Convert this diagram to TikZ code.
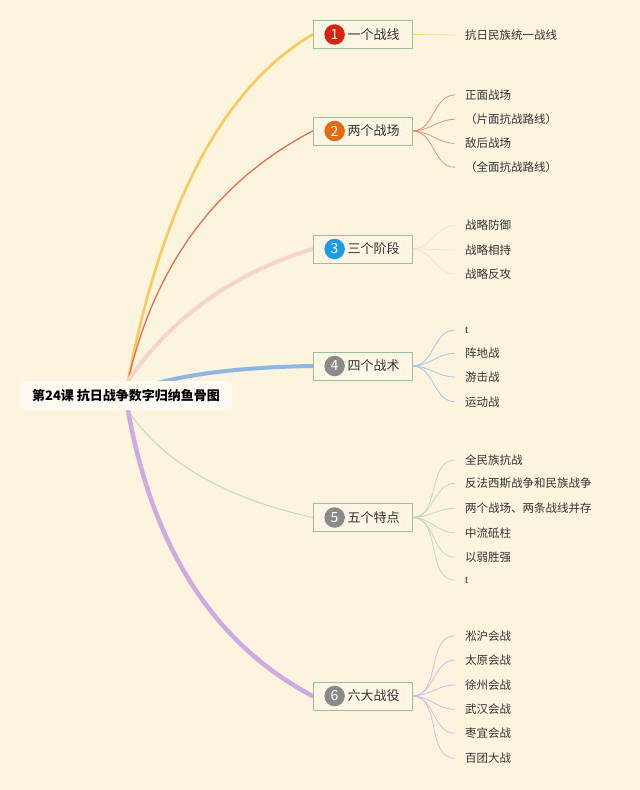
\documentclass[tikz,border=0pt]{standalone}
\usepackage{fontspec}
\setmainfont{Noto Sans CJK SC}
\newfontfamily\latinserif{Liberation Serif}
\usepackage{tikz}
\usetikzlibrary{backgrounds,calc}

\definecolor{bgcream}{HTML}{FDF4DE}
\definecolor{rootfill}{HTML}{FFFBF3}
\definecolor{boxline}{HTML}{9DBE9A}
\definecolor{boxfill}{HTML}{FEF6E4}
\definecolor{cyellow}{HTML}{F8C95C}
\definecolor{cred}{HTML}{E0704C}
\definecolor{cpink}{HTML}{F5D5C8}
\definecolor{cblue}{HTML}{8FB5E3}
\definecolor{cgreen}{HTML}{BBDDB9}
\definecolor{cpurple}{HTML}{CFA9E1}
\definecolor{numred}{HTML}{D8230F}
\definecolor{numorange}{HTML}{E36C12}
\definecolor{numblue}{HTML}{1D9BE0}
\definecolor{numgray}{HTML}{8A8A8A}
\definecolor{ink}{HTML}{333333}

\begin{document}
\begin{tikzpicture}[
  x=1pt, y=-1pt,
  root/.style={fill=rootfill, rounded corners=6pt, minimum width=212pt, minimum height=29pt,
    inner sep=0pt, text=black, font=\bfseries\fontsize{13}{15}\selectfont},
  topic/.style={draw=boxline, fill=boxfill, line width=0.8pt, minimum width=99pt,
    minimum height=28pt, inner sep=0pt, text=ink, font=\fontsize{13}{15}\selectfont},
  num/.style={circle, inner sep=0pt, minimum size=20.5pt, text=white, font=\fontsize{14}{14}\selectfont},
  leaf/.style={anchor=west, inner xsep=10pt, inner ysep=1pt, text=ink, font=\fontsize{11.5}{13}\selectfont},
  bone/.style={line cap=round},
  twig/.style={line width=0.8pt}
]
  \useasboundingbox (0,0) rectangle (640,790);

  % root
  \node[root] (root) at (126,395.5) {第24课 抗日战争数字归纳鱼骨图};
  \coordinate (rtop) at ([xshift=2pt]root.north);
  \coordinate (rmid) at ([xshift=2pt,yshift=3pt]root.center);
  \coordinate (rbot) at ([xshift=2pt]root.south);

  % topics
  \node[topic] (t1) at (362.5,34.5) {\hspace*{22pt}一个战线};
  \node[topic] (t2) at (362.5,131) {\hspace*{22pt}两个战场};
  \node[topic] (t3) at (362.5,249) {\hspace*{22pt}三个阶段};
  \node[topic] (t4) at (362.5,366) {\hspace*{22pt}四个战术};
  \node[topic] (t5) at (362.5,517.5) {\hspace*{22pt}五个特点};
  \node[topic] (t6) at (362.5,696) {\hspace*{22pt}六大战役};
  \node[num, fill=numred] (n1) at ([xshift=22pt]t1.west) {1};
  \node[num, fill=numorange] (n2) at ([xshift=22pt]t2.west) {2};
  \node[num, fill=numblue] (n3) at ([xshift=22pt]t3.west) {3};
  \node[num, fill=numgray] (n4) at ([xshift=22pt]t4.west) {4};
  \node[num, fill=numgray] (n5) at ([xshift=22pt]t5.west) {5};
  \node[num, fill=numgray] (n6) at ([xshift=22pt]t6.west) {6};

  % leaves
  \node[leaf] (l11) at (455,35) {抗日民族统一战线};

  \node[leaf] (l21) at (455,95) {正面战场};
  \node[leaf] (l22) at (455,119.3) {（片面抗战路线）};
  \node[leaf] (l23) at (455,143.3) {敌后战场};
  \node[leaf] (l24) at (455,167.3) {（全面抗战路线）};

  \node[leaf] (l31) at (455,225.5) {战略防御};
  \node[leaf] (l32) at (455,250) {战略相持};
  \node[leaf] (l33) at (455,274) {战略反攻};

  \node[leaf] (l41) at (455,330) {\latinserif t};
  \node[leaf] (l42) at (455,353.3) {阵地战};
  \node[leaf] (l43) at (455,377) {游击战};
  \node[leaf] (l44) at (455,401.7) {运动战};

  \node[leaf] (l51) at (455,460) {全民族抗战};
  \node[leaf] (l52) at (455,483.3) {反法西斯战争和民族战争};
  \node[leaf] (l53) at (455,508.3) {两个战场、两条战线并存};
  \node[leaf] (l54) at (455,532.7) {中流砥柱};
  \node[leaf] (l55) at (455,557.3) {以弱胜强};
  \node[leaf] (l56) at (455,580) {\latinserif t};

  \node[leaf] (l61) at (455,635.7) {淞沪会战};
  \node[leaf] (l62) at (455,660) {太原会战};
  \node[leaf] (l63) at (455,685) {徐州会战};
  \node[leaf] (l64) at (455,709.3) {武汉会战};
  \node[leaf] (l65) at (455,733.3) {枣宜会战};
  \node[leaf] (l66) at (455,758.3) {百团大战};

  \begin{scope}[on background layer]
    \fill[bgcream] (0,0) rectangle (640,790);

    % main bones
    \draw[bone, cyellow, line width=2.6pt] (rtop) .. controls (162.7,201.3) and (224.3,86.3) .. (t1.west);
    \draw[bone, cred, line width=1.3pt] (rtop) .. controls (154.7,264.7) and (216.3,181.3) .. (t2.west);
    \draw[bone, cpink, line width=4pt] (rtop) .. controls (172.3,316.7) and (234,273) .. (t3.west);
    \draw[bone, cblue, line width=4pt] (rmid) .. controls (169.3,376) and (231.7,367.3) .. (t4.west);
    \draw[bone, cgreen, line width=1pt] (rbot) .. controls (161.3,460.7) and (222.3,497.3) .. (t5.west);
    \draw[bone, cpurple, line width=4.5pt] (rbot) .. controls (152.7,548.7) and (214.3,644) .. (t6.west);

    % twigs
    \draw[twig, cyellow!80] (t1.east) -- (l11.west);

    \draw[twig, cred!75] (t2.east) to[out=0,in=180] (l21.west);
    \draw[twig, cred!75] (t2.east) to[out=0,in=180] (l22.west);
    \draw[twig, cred!75] (t2.east) to[out=0,in=180] (l23.west);
    \draw[twig, cred!75] (t2.east) to[out=0,in=180] (l24.west);

    \draw[twig, cpink!80] (t3.east) to[out=0,in=180] (l31.west);
    \draw[twig, cpink!80] (t3.east) to[out=0,in=180] (l32.west);
    \draw[twig, cpink!80] (t3.east) to[out=0,in=180] (l33.west);

    \draw[twig, cblue!80] (t4.east) to[out=0,in=180] (l41.west);
    \draw[twig, cblue!80] (t4.east) to[out=0,in=180] (l42.west);
    \draw[twig, cblue!80] (t4.east) to[out=0,in=180] (l43.west);
    \draw[twig, cblue!80] (t4.east) to[out=0,in=180] (l44.west);

    \draw[twig, cgreen] (t5.east) to[out=0,in=180] (l51.west);
    \draw[twig, cgreen] (t5.east) to[out=0,in=180] (l52.west);
    \draw[twig, cgreen] (t5.east) to[out=0,in=180] (l53.west);
    \draw[twig, cgreen] (t5.east) to[out=0,in=180] (l54.west);
    \draw[twig, cgreen] (t5.east) to[out=0,in=180] (l55.west);
    \draw[twig, cgreen] (t5.east) to[out=0,in=180] (l56.west);

    \draw[twig, cpurple!80] (t6.east) to[out=0,in=180] (l61.west);
    \draw[twig, cpurple!80] (t6.east) to[out=0,in=180] (l62.west);
    \draw[twig, cpurple!80] (t6.east) to[out=0,in=180] (l63.west);
    \draw[twig, cpurple!80] (t6.east) to[out=0,in=180] (l64.west);
    \draw[twig, cpurple!80] (t6.east) to[out=0,in=180] (l65.west);
    \draw[twig, cpurple!80] (t6.east) to[out=0,in=180] (l66.west);
  \end{scope}
\end{tikzpicture}
\end{document}
